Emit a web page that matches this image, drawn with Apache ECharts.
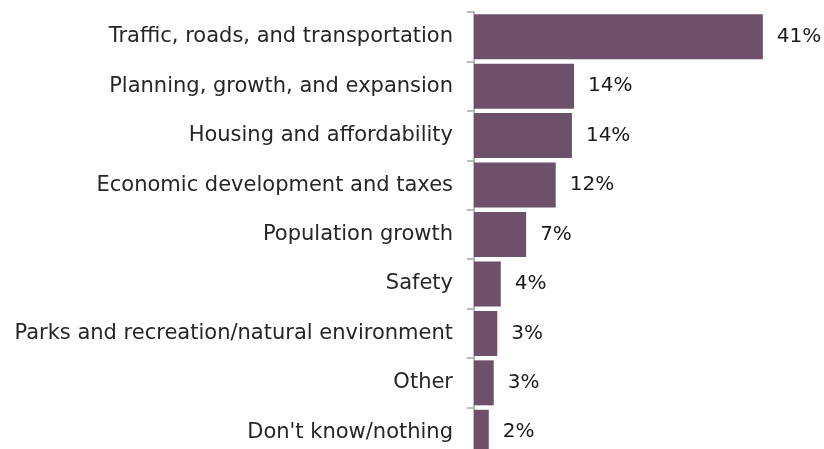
<!DOCTYPE html>
<html>
<head>
<meta charset="utf-8">
<script src="https://cdn.jsdelivr.net/npm/echarts@6/dist/echarts.min.js"></script>
<style>
  html, body { margin: 0; padding: 0; background: #fff; overflow: hidden; }
  #chart { width: 824px; height: 458px; }
</style>
</head>
<body>
<div id="chart"></div>
<script>
// categories, top to bottom
const categories = [
  'Traffic, roads, and transportation',
  'Planning, growth, and expansion',
  'Housing and affordability',
  'Economic development and taxes',
  'Population growth',
  'Safety',
  'Parks and recreation/natural environment',
  'Other',
  "Don't know/nothing"
];
const values = [41, 14.2, 13.9, 11.6, 7.4, 3.8, 3.3, 2.8, 2.1];
const valueLabels = ['41%', '14%', '14%', '12%', '7%', '4%', '3%', '3%', '2%'];

// the plot runs a little past the bottom edge of the window, like the original
const chart = echarts.init(document.getElementById('chart'));

const option = {
  animation: false,
  grid: { left: 474, right: 33, top: 12, bottom: 1 },
  xAxis: {
    type: 'value',
    min: 0,
    max: 45,
    show: false
  },
  yAxis: {
    type: 'category',
    inverse: true,
    data: categories,
    axisLine: { show: true, lineStyle: { color: '#a6a6a6', width: 1.5 } },
    axisTick: { show: true, length: 7, lineStyle: { color: '#a6a6a6', width: 1.5 } },
    axisLabel: {
      margin: 21,
      color: '#262626',
      fontFamily: 'DejaVu Sans',
      fontSize: 21
    }
  },
  series: [{
    type: 'bar',
    data: values,
    barCategoryGap: '9%',
    itemStyle: { color: '#6d5069' },
    label: {
      show: true,
      position: 'right',
      distance: 14,
      color: '#1a1a1a',
      fontFamily: 'DejaVu Sans',
      fontSize: 20,
      formatter: p => valueLabels[p.dataIndex]
    }
  }]
};

chart.setOption(option);
</script>
</body>
</html>
